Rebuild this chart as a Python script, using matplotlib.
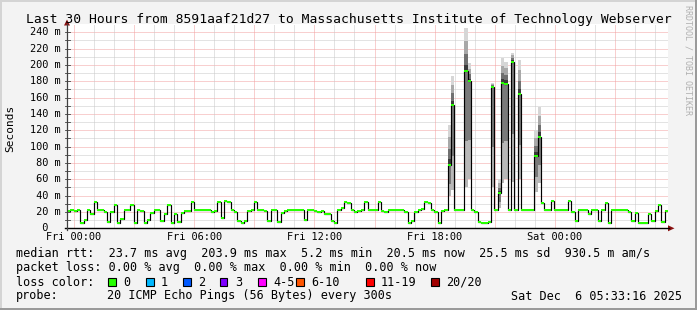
import matplotlib
matplotlib.use("Agg")
import matplotlib.pyplot as plt
import matplotlib.transforms as mtransforms
from matplotlib.patches import Rectangle, Polygon
from matplotlib.lines import Line2D
import numpy as np

W, H, DPI = 697, 310, 100
MONO = "DejaVu Sans Mono"

title = "Last 30 Hours from 8591aaf21d27 to Massachusetts Institute of Technology Webserver"

# time axis: hours relative to Fri 00:00, 10-minute steps
start_hour = -0.35
steps_per_hour = 6

# median rtt in ms, one value per 10-minute step (6 per hour)
median_ms = [
    21, 23, 21, 22, 7, 10,
    22, 18, 32, 22, 22, 20,
    8, 20, 29, 7, 11, 23,
    23, 29, 7, 22, 21, 7,
    10, 19, 23, 22, 9, 18,
    29, 7, 18, 8, 19, 21,
    21, 32, 22, 22, 22, 22,
    22, 20, 21, 32, 13, 33,
    32, 23, 20, 9, 7, 9,
    21, 23, 32, 22, 23, 21,
    9, 23, 23, 8, 19, 21,
    22, 22, 22, 22, 22, 10,
    22, 22, 21, 20, 21, 18,
    17, 9, 7, 22, 25, 32,
    31, 22, 20, 21, 22, 32,
    22, 22, 22, 32, 21, 20,
    22, 22, 22, 22, 22, 20,
    7, 9, 20, 22, 24, 32,
    31, 22, 20, 7, 21, 22,
    77, 151, 22, 22, 22, 192,
    180, 22, 20, 8, 7, 7,
    8, 173, 22, 43, 178, 177,
    22, 204, 22, 164, 22, 22,
    22, 22, 88, 112, 31, 22,
    22, 33, 22, 22, 22, 22,
    33, 20, 9, 22, 22, 22,
    18, 22, 22, 9, 22, 31,
    7, 22, 22, 22, 22, 22,
    20, 9, 19, 7, 7, 7,
    18, 9, 21, 29, 8, 21,
]

# smoke (spread of the 20 pings) for steps with visible spread
smoke_idx = [114, 115, 119, 120, 127, 129, 130, 131, 133, 135, 140, 141]
smoke_lo = [40, 47, 50, 60, 50, 25, 55, 60, 57, 60, 45, 55]
smoke_hi = [126, 186, 245, 202, 178, 60, 208, 204, 215, 206, 120, 149]

xtick_hours = [0, 6, 12, 18, 24]
xtick_labels = ["Fri 00:00", "Fri 06:00", "Fri 12:00", "Fri 18:00", "Sat 00:00"]
ytick_values = [0, 20, 40, 60, 80, 100, 120, 140, 160, 180, 200, 220, 240]
ytick_labels = ["  0", " 20 m", " 40 m", " 60 m", " 80 m", "100 m", "120 m", "140 m",
                "160 m", "180 m", "200 m", "220 m", "240 m"]
y_max = 250

legend_rtt = "median rtt:  23.7 ms avg  203.9 ms max  5.2 ms min  20.5 ms now  25.5 ms sd  930.5 m am/s"
legend_loss = "packet loss: 0.00 % avg  0.00 % max  0.00 % min  0.00 % now"
loss_labels = ["0", "1", "2", "3", "4-5", "6-10", "11-19", "20/20"]
loss_colors = ["#26ff00", "#00b8ff", "#0059ff", "#7e00ff", "#ff00ff", "#ff5500", "#ff0000", "#a10000"]
probe_text = "20 ICMP Echo Pings (56 Bytes) every 300s"
date_text = "Sat Dec  6 05:33:16 2025"
watermark = "RRDTOOL / TOBI OETIKER"

# ---------------------------------------------------------------
def fx(px):
    return px / W


def fy(py):
    return 1 - py / H


fig = plt.figure(figsize=(W / DPI, H / DPI), dpi=DPI)
fig.patch.set_facecolor("#f3f3f3")

# plot canvas
ax_left, ax_right, ax_top, ax_bottom = 67, 668, 24.0, 228.3
ax = fig.add_axes([fx(ax_left), fy(ax_bottom), (ax_right - ax_left) / W, (ax_bottom - ax_top) / H])
ax.set_facecolor("white")
n = len(median_ms)
edges = start_hour + np.arange(n + 1) / steps_per_hour
ax.set_xlim(edges[0], edges[-1])
ax.set_ylim(0, y_max)
for s in ax.spines.values():
    s.set_visible(False)
ax.set_xticks([])
ax.set_yticks([])

# grid (dotted)
dot = (0, (1, 1))
for v in range(10, y_max, 10):
    col = "#f2a0a0" if v % 20 == 0 else "#c8c8c8"
    ax.axhline(v, color=col, lw=0.72, ls=dot, zorder=1)
for hr in range(int(np.ceil(edges[0])), int(np.floor(edges[-1])) + 1):
    col = "#f2a0a0" if hr % 3 == 0 else "#c8c8c8"
    ax.axvline(hr, color=col, lw=0.72, ls=dot, zorder=1)

# smoke
med = np.array(median_ms, dtype=float)
for j, lo, hi in zip(smoke_idx, smoke_lo, smoke_hi):
    m = med[j]
    for frac, col in [(1.0, "#d6d6d6"), (0.7, "#a8a8a8"), (0.4, "#707070"), (0.15, "#3a3a3a")]:
        top = m + frac * (hi - m)
        ax.bar(edges[j], top - m, bottom=m, width=1 / steps_per_hour, align="edge",
               color=col, lw=0, zorder=2)
    for frac, col in [(1.0, "#b8b8b8"), (0.6, "#7a7a7a")]:
        bot = m - frac * (m - lo)
        ax.bar(edges[j], m - bot, bottom=bot, width=1 / steps_per_hour, align="edge",
               color=col, lw=0, zorder=2)

# median line: black steps with green (loss 0) caps
ax.stairs(med, edges, baseline=None, color="#000000", lw=0.85, zorder=3)
ax.hlines(med, edges[:-1], edges[1:], colors=loss_colors[0], lw=1.44, zorder=4,
          capstyle="butt")

# axis labels
xtr = mtransforms.blended_transform_factory(ax.transData, fig.transFigure)
for h, lab in zip(xtick_hours, xtick_labels):
    fig.text(h, fy(237.5), lab, transform=xtr, ha="center", va="center",
             family=MONO, fontsize=7.4)
ytr = mtransforms.blended_transform_factory(fig.transFigure, ax.transData)
for v, lab in zip(ytick_values, ytick_labels):
    fig.text(fx(29.5), v, lab, transform=ytr, ha="left", va="center",
             family=MONO, fontsize=7.4)

# small ticks on y axis
for v in range(0, y_max, 10):
    ya = ax_bottom - v * (ax_bottom - ax_top) / y_max
    fig.add_artist(Line2D([fx(64.5), fx(69.5)], [fy(ya), fy(ya)], color="#404040", lw=0.6))

# axes lines + arrows
fig.add_artist(Line2D([fx(65), fx(669)], [fy(ax_bottom), fy(ax_bottom)], color="black", lw=1.0))
fig.add_artist(Line2D([fx(67), fx(67)], [fy(230), fy(24)], color="#404040", lw=0.9))
fig.add_artist(Polygon([[fx(668), fy(ax_bottom - 3)], [fx(668), fy(ax_bottom + 3)],
                        [fx(674.5), fy(ax_bottom)]], closed=True, color="#8b1010", lw=0))
fig.add_artist(Polygon([[fx(64), fy(25.5)], [fx(70), fy(25.5)], [fx(67), fy(19.5)]],
                       closed=True, color="#8b1010", lw=0))

# title, y-label, watermark
fig.text(fx(348.5), fy(19), title, ha="center", va="center", family=MONO, fontsize=9.4)
fig.text(fx(10), fy(128), "Seconds", rotation=90, ha="center", va="center",
         family=MONO, fontsize=8)
fig.text(fx(688), fy(60), watermark, rotation=270, ha="center", va="center",
         family=MONO, fontsize=6, color="#b0b0b0")

# legend
fs_leg = 8.5
fig.text(fx(16), fy(254), legend_rtt, ha="left", va="center", family=MONO, fontsize=fs_leg)
fig.text(fx(16), fy(268), legend_loss, ha="left", va="center", family=MONO, fontsize=fs_leg)
fig.text(fx(16), fy(282), "loss color:", ha="left", va="center", family=MONO, fontsize=fs_leg)
box_x = [108, 146, 183, 220, 258, 296, 366, 431]
for bx, lab, col in zip(box_x, loss_labels, loss_colors):
    fig.add_artist(Rectangle((fx(bx), fy(285.5)), 7.5 / W, 7.5 / H, facecolor=col,
                             edgecolor="black", lw=0.8))
    fig.text(fx(bx + 15), fy(282), lab, ha="left", va="center", family=MONO, fontsize=fs_leg)
fig.text(fx(16), fy(296), "probe:", ha="left", va="center", family=MONO, fontsize=fs_leg)
fig.text(fx(107), fy(296), probe_text, ha="left", va="center", family=MONO, fontsize=fs_leg)
fig.text(fx(682), fy(296), date_text, ha="right", va="center", family=MONO, fontsize=fs_leg)

# frame shading
fig.add_artist(Rectangle((0, fy(2)), 1, 2 / H, facecolor="#d4d4d4", lw=0))
fig.add_artist(Rectangle((0, 0), 2 / W, 1, facecolor="#d4d4d4", lw=0))
fig.add_artist(Rectangle((0, 0), 1, 2 / H, facecolor="#9a9a9a", lw=0))
fig.add_artist(Rectangle((fx(695), 0), 2 / W, 1, facecolor="#9a9a9a", lw=0))

fig.savefig("out.png", dpi=DPI, facecolor=fig.get_facecolor())
